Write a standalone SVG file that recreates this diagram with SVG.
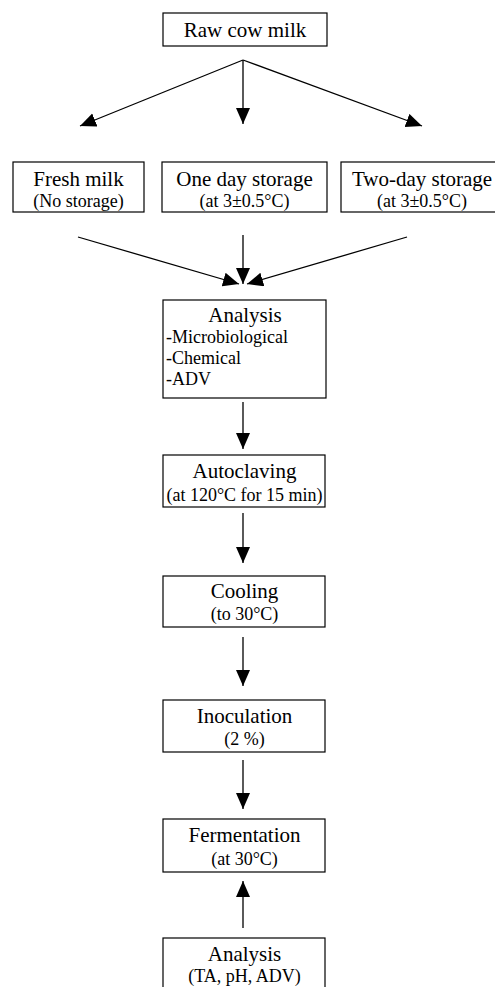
<svg xmlns="http://www.w3.org/2000/svg" width="495" height="987" viewBox="0 0 495 987">
<style>
.box{fill:#fff;stroke:#000;stroke-width:1.2}
.t{font-family:"Liberation Serif","Times New Roman",serif;font-size:21px;fill:#000;text-anchor:middle}
.s{font-family:"Liberation Serif","Times New Roman",serif;font-size:18px;fill:#000;text-anchor:middle}
.l{font-family:"Liberation Serif","Times New Roman",serif;font-size:18px;fill:#000}
.c{stroke:#000;stroke-width:1.3;fill:none;marker-end:url(#ah)}
</style>
<defs>
<marker id="ah" markerUnits="userSpaceOnUse" markerWidth="17" markerHeight="15" refX="16" refY="7" orient="auto">
<path d="M0,0 L16,7 L0,14 z" fill="#000"/>
</marker>
</defs>
<g id="connectors">
<line class="c" x1="243" y1="60" x2="80" y2="126"/>
<line class="c" x1="243" y1="60" x2="243" y2="124"/>
<line class="c" x1="243" y1="60" x2="422" y2="126"/>
<line class="c" x1="78" y1="237" x2="239" y2="284"/>
<line class="c" x1="243" y1="235" x2="243" y2="284"/>
<line class="c" x1="407" y1="237" x2="247" y2="284"/>
<line class="c" x1="243" y1="402" x2="243" y2="449"/>
<line class="c" x1="243" y1="513" x2="243" y2="563"/>
<line class="c" x1="243" y1="637" x2="243" y2="686"/>
<line class="c" x1="243" y1="760" x2="243" y2="809"/>
<line class="c" x1="243" y1="928" x2="243" y2="881"/>
</g>
<g id="raw">
<rect class="box" x="163" y="13" width="164" height="33"/>
<text class="t" x="245" y="37">Raw cow milk</text>
</g>
<g id="fresh">
<rect class="box" x="13" y="162" width="131" height="50"/>
<text class="t" x="78.5" y="186">Fresh milk</text>
<text class="s" x="78.5" y="207">(No storage)</text>
</g>
<g id="oneday">
<rect class="box" x="162" y="162" width="165" height="50"/>
<text class="t" x="244.5" y="186">One day storage</text>
<text class="s" x="244.5" y="207">(at 3±0.5°C)</text>
</g>
<g id="twoday">
<rect class="box" x="341" y="162" width="165" height="50"/>
<text class="t" x="422" y="186">Two-day storage</text>
<text class="s" x="422" y="207">(at 3±0.5°C)</text>
</g>
<g id="analysis1">
<rect class="box" x="163" y="300" width="163" height="98"/>
<text class="t" x="245" y="322">Analysis</text>
<text class="l" x="166" y="343">-Microbiological</text>
<text class="l" x="166" y="364">-Chemical</text>
<text class="l" x="166" y="385">-ADV</text>
</g>
<g id="autoclaving">
<rect class="box" x="163" y="455" width="162" height="52"/>
<text class="t" x="244.5" y="478">Autoclaving</text>
<text class="s" x="244.5" y="501">(at 120°C for 15 min)</text>
</g>
<g id="cooling">
<rect class="box" x="163" y="576" width="162" height="51"/>
<text class="t" x="244.5" y="598">Cooling</text>
<text class="s" x="244.5" y="620">(to 30°C)</text>
</g>
<g id="inoculation">
<rect class="box" x="163" y="700" width="162" height="52"/>
<text class="t" x="244.5" y="723">Inoculation</text>
<text class="s" x="244.5" y="745">(2 %)</text>
</g>
<g id="fermentation">
<rect class="box" x="163" y="819" width="162" height="53"/>
<text class="t" x="244.5" y="842">Fermentation</text>
<text class="s" x="244.5" y="865">(at 30°C)</text>
</g>
<g id="analysis2">
<rect class="box" x="163" y="938" width="162" height="52"/>
<text class="t" x="244.5" y="961">Analysis</text>
<text class="s" x="244.5" y="982">(TA, pH, ADV)</text>
</g>
</svg>
